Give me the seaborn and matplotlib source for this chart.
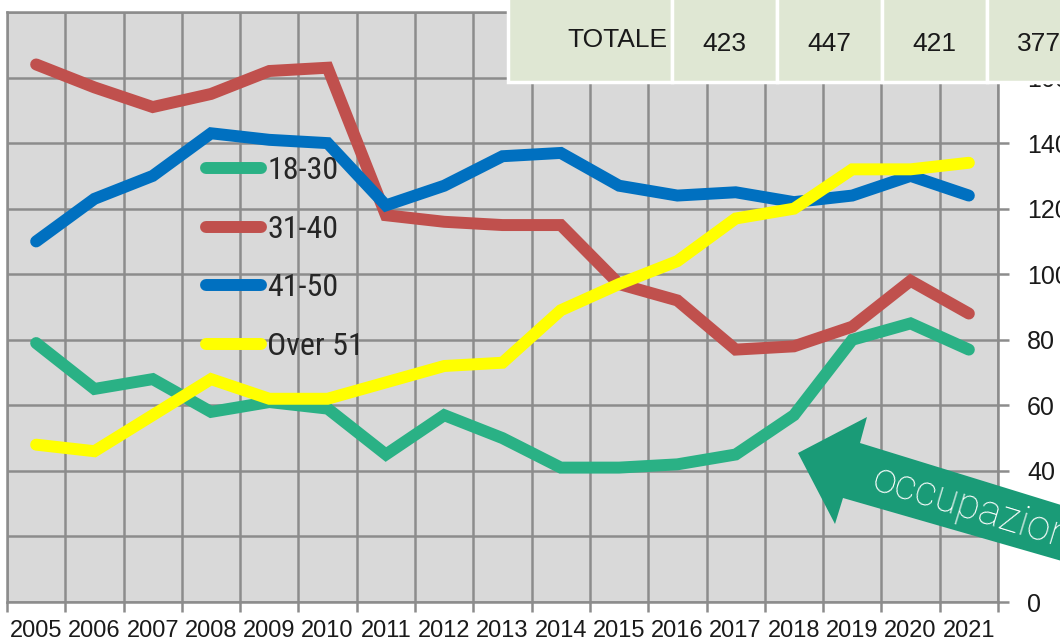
import seaborn as sns
import pandas as pd
import matplotlib.pyplot as plt
from matplotlib.patches import Rectangle, Polygon
from matplotlib.ticker import MultipleLocator, FixedLocator

# values
anni = list(range(2005, 2022))
fascia_18_30 = [79, 65, 68, 58, 61, 59, 45, 57, 50, 41, 41, 42, 45, 57, 80, 85, 77]
fascia_31_40 = [164, 157, 151, 155, 162, 163, 118, 116, 115, 115, 97, 92, 77, 78, 84, 98, 88]
fascia_41_50 = [110, 123, 130, 143, 141, 140, 121, 127, 136, 137, 127, 124, 125, 122, 124, 130, 124]
fascia_over_51 = [48, 46, 57, 68, 62, 62, 67, 72, 73, 89, 97, 104, 117, 120, 132, 132, 134]
fasce = ['18-30', '31-40', '41-50', 'Over 51']
colori = ['#2ab185', '#c0504d', '#0070c0', '#ffff00']
totali_label = 'TOTALE'
totali = [423, 447, 421, 377]
freccia_testo = 'occupazione'

df = pd.DataFrame({
    'anno': anni * 4,
    'valore': fascia_18_30 + fascia_31_40 + fascia_41_50 + fascia_over_51,
    'fascia': [f for f in fasce for _ in anni],
})

sns.set_style('ticks')
plt.rcParams['font.family'] = ['Liberation Sans', 'DejaVu Sans']

fig = plt.figure(figsize=(10.6, 6.42), dpi=100)
ax = fig.add_axes([7 / 1060, 40 / 642, 991 / 1060, 590 / 642])
ax.set_facecolor('#d9d9d9')

sns.lineplot(data=df, x='anno', y='valore', hue='fascia', hue_order=fasce,
             palette=dict(zip(fasce, colori)), linewidth=8.6, legend=False,
             solid_capstyle='round', solid_joinstyle='miter', ax=ax, zorder=3)

grey = '#8c8c8c'
ax.set_xlim(2004.5, 2021.5)
ax.set_ylim(0, 180)
ax.xaxis.set_major_locator(FixedLocator(anni))
ax.xaxis.set_minor_locator(FixedLocator([a - 0.5 for a in anni] + [2021.5]))
ax.yaxis.set_major_locator(MultipleLocator(20))
ax.yaxis.tick_right()
ax.grid(which='minor', axis='x', color=grey, lw=1.8)
ax.grid(which='major', axis='y', color=grey, lw=1.8)
ax.set_axisbelow(True)
ax.tick_params(axis='x', which='major', length=0, pad=13, labelsize=17, labelcolor='#1a1a1a')
ax.tick_params(axis='x', which='minor', length=7, width=1.8, color=grey)
ax.tick_params(axis='y', which='major', length=8, width=1.8, color=grey, pad=13,
               labelsize=18, labelcolor='#1a1a1a')
for sp in ax.spines.values():
    sp.set_visible(True)
    sp.set_color(grey)
    sp.set_linewidth(1.8)
ax.set_xlabel('')
ax.set_ylabel('')

leg = ax.legend(ax.get_lines()[:4], fasce, loc='upper left',
                bbox_to_anchor=(206 / 1060, 1 - 156 / 642), bbox_transform=fig.transFigure,
                frameon=False, borderpad=0, borderaxespad=0, handlelength=1.72,
                handletextpad=0.2, labelspacing=0.93,
                prop={'family': ['Liberation Sans Narrow', 'Roboto Condensed', 'Roboto'],
                      'size': 23})

# overlay: table of totals and arrow
ov = fig.add_axes([0, 0, 1, 1], zorder=10)
ov.set_xlim(0, 1060)
ov.set_ylim(642, 0)
ov.axis('off')
ov.patch.set_alpha(0)

fill = '#dfe7d3'
ov.add_patch(Rectangle((508, -5), 164, 87, fc=fill, ec='white', lw=2.5))
ov.text(667, 40, totali_label, ha='right', va='center', fontsize=19, color='#1a1a1a')
for i, t in enumerate(totali):
    x0 = 672 + 105 * i
    ov.add_patch(Rectangle((x0, -5), 105, 87, fc=fill, ec='white', lw=2.5))
    ov.text(x0 + 52, 44, str(t), ha='center', va='center', fontsize=19, color='#1a1a1a')

ov.add_patch(Polygon([(798, 453), (867, 417), (860, 443), (1100, 517),
                      (1100, 572), (843, 498), (835, 524)], closed=True,
                     fc='#1a9b77', ec='none'))
ov.text(873, 478, freccia_testo, rotation=-17, rotation_mode='anchor', ha='left',
        va='center', fontsize=30, color='white', fontweight='light',
        family=['Roboto', 'DejaVu Sans'])

fig.savefig('out.png', dpi=100)
